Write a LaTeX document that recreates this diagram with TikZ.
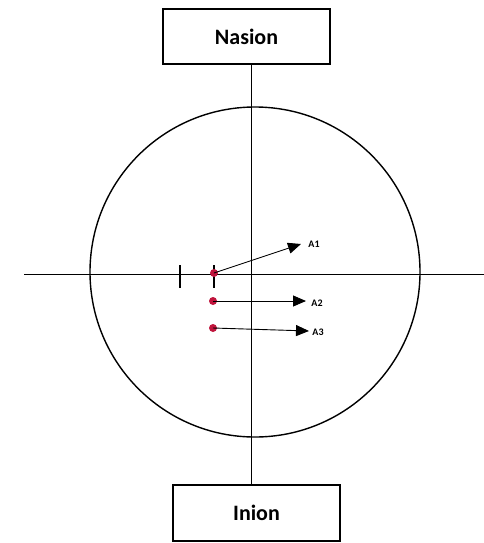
\documentclass[tikz,border=0pt]{standalone}
\usepackage{fontspec}
\setmainfont{Carlito}
\usetikzlibrary{arrows.meta}
\definecolor{dotred}{HTML}{C0143C}
\tikzset{
  labelbox/.style={draw, line width=1.4pt, minimum width=167pt, minimum height=55pt, inner sep=0pt, font=\bfseries\fontsize{22}{24}\selectfont},
  axis/.style={line width=0.8pt},
  tickmark/.style={line width=1.3pt},
  pt/.style={circle, fill=dotred, inner sep=0pt, minimum size=8pt},
  vec/.style={line width=0.9pt, -{Triangle[length=13pt, width=11pt]}},
  alabel/.style={font=\bfseries\fontsize{10}{11}\selectfont, inner sep=0pt}
}
\begin{document}
\begin{tikzpicture}[x=1pt, y=-1pt]
\useasboundingbox (0,0) rectangle (484,543);
\node[labelbox] (nasion) at (246.5,36.5) {Nasion};
\node[labelbox, minimum height=56pt] (inion) at (256.5,513) {Inion};
\coordinate (vx) at (251,0);
\draw[axis] (nasion.south -| vx) -- (inion.north -| vx);
\coordinate (hl) at (24,274);
\coordinate (hr) at (484,274);
\draw[axis] (hl) -- (hr);
\draw[line width=1.4pt] (255,272) circle [radius=165];
\coordinate (t1a) at (180,265); \coordinate (t1b) at (180,288);
\draw[tickmark] (t1a) -- (t1b);
\coordinate (t2a) at (214,265); \coordinate (t2b) at (214,288);
\draw[tickmark] (t2a) -- (t2b);
\node[pt] (p1) at (214,273) {};
\node[pt] (p2) at (213,301) {};
\node[pt] (p3) at (213,328) {};
\coordinate (e1) at (301,244);
\coordinate (e2) at (306,301);
\coordinate (e3) at (309,331);
\draw[vec] (p1.center) -- (e1);
\draw[vec] (p2.center) -- (e2);
\draw[vec] (p3.center) -- (e3);
\node[alabel] (a1) at (314,244) {A1};
\node[alabel] (a2) at (317,303) {A2};
\node[alabel] (a3) at (318,332) {A3};
\end{tikzpicture}
\end{document}
